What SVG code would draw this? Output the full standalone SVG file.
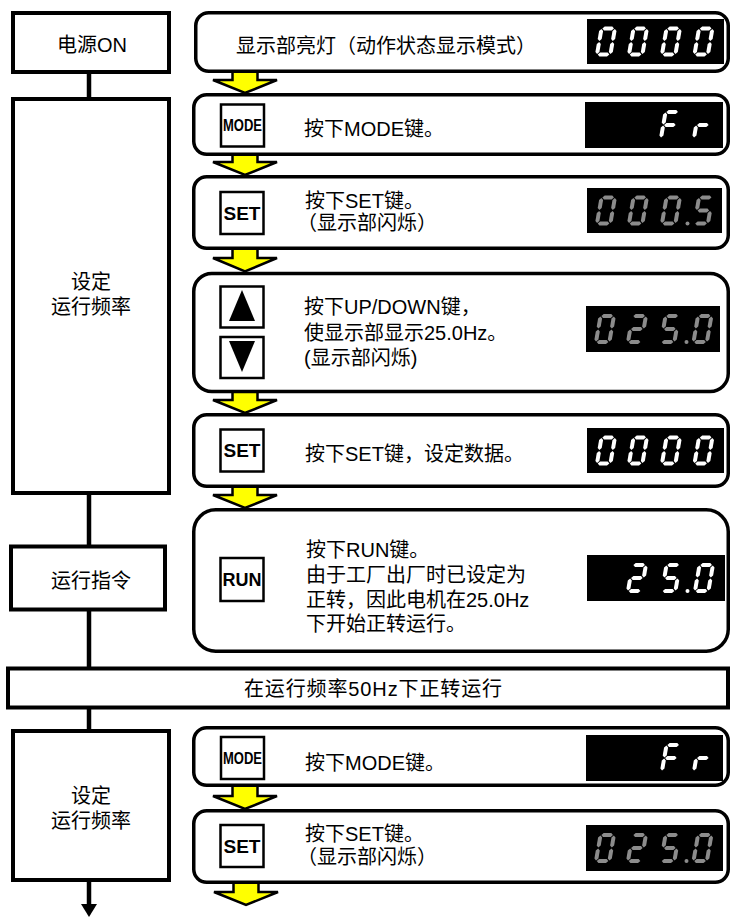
<svg xmlns="http://www.w3.org/2000/svg" width="732" height="917" viewBox="0 0 732 917">
<style>
.box{fill:#fff;stroke:#000;stroke-width:4}
.card{fill:#fff;stroke:#000;stroke-width:3.5}
.btn{fill:#fff;stroke:#000;stroke-width:2.5}
.disp{fill:#000}
.t{font-family:"Liberation Sans","Noto Sans CJK SC",sans-serif;font-size:20px;fill:#000}
.c{text-anchor:middle}
.bt{font-family:"Liberation Sans",Arial,sans-serif;font-weight:bold;fill:#000;text-anchor:middle}
.line{stroke:#000;stroke-width:4.5;fill:none}
.ya{fill:#ffff00;stroke:#000;stroke-width:2.5;stroke-linejoin:miter}
.on{fill:#fff}
.bl{fill:#8c8c8c}
</style>
<defs>
<polygon id="sh" points="0,0 2,-2 9.6,-2 11.6,0 9.6,2 2,2"/>
<polygon id="sv" points="0,0 2,2 2,9.8 0,11.8 -2,9.8 -2,2"/>
<g id="g0"><use href="#sh" x="2.7" y="1.9"/><use href="#sv" x="15.3" y="2.6"/><use href="#sv" x="15.3" y="15.6"/><use href="#sh" x="2.7" y="28.1"/><use href="#sv" x="1.9" y="15.6"/><use href="#sv" x="1.9" y="2.6"/></g>
<g id="g2"><use href="#sh" x="2.7" y="1.9"/><use href="#sv" x="15.3" y="2.6"/><use href="#sh" x="2.7" y="15"/><use href="#sv" x="1.9" y="15.6"/><use href="#sh" x="2.7" y="28.1"/></g>
<g id="g5"><use href="#sh" x="2.7" y="1.9"/><use href="#sv" x="1.9" y="2.6"/><use href="#sh" x="2.7" y="15"/><use href="#sv" x="15.3" y="15.6"/><use href="#sh" x="2.7" y="28.1"/></g>
<g id="gF"><use href="#sh" x="2.7" y="1.9"/><use href="#sv" x="1.9" y="2.6"/><use href="#sh" x="2.7" y="15"/><use href="#sv" x="1.9" y="15.6"/></g>
<g id="gr"><use href="#sh" x="2.7" y="15"/><use href="#sv" x="1.9" y="15.6"/></g>
</defs>

<g id="connectors">
<line class="line" x1="89" y1="74" x2="89" y2="97"/>
<line class="line" x1="89" y1="495" x2="89" y2="545"/>
<line class="line" x1="89" y1="611" x2="89" y2="667"/>
<line class="line" x1="89" y1="709" x2="89" y2="729"/>
<line class="line" x1="89" y1="882" x2="89" y2="906"/>
<polygon points="81,904 97,904 89,917" fill="#000"/>
<path class="ya" d="M232.5,68 H257.5 V80 H277 L245,93 L213,80 H232.5 Z"/>
<path class="ya" d="M232.5,151 H257.5 V162 H277 L245,175 L213,162 H232.5 Z"/>
<path class="ya" d="M232.5,245 H257.5 V258 H277 L245,271.5 L213,258 H232.5 Z"/>
<path class="ya" d="M232.5,388 H257.5 V400 H277 L245,413 L213,400 H232.5 Z"/>
<path class="ya" d="M232.5,483 H257.5 V495 H277 L245,508 L213,495 H232.5 Z"/>
<path class="ya" d="M232.5,782 H257.5 V796 H277 L245,809 L213,796 H232.5 Z"/>
<path class="ya" d="M233.5,879 H258.5 V892 H278 L246,905 L214,892 H233.5 Z"/>
</g>

<g id="power-on">
<rect class="box" x="13" y="13" width="156" height="59"/>
<text class="t c" x="92" y="52">电源ON</text>
</g>
<g id="set-freq-1">
<rect class="box" x="13" y="99" width="156" height="394"/>
<text class="t c" x="91" y="288.5">设定</text>
<text class="t c" x="91" y="313.5">运行频率</text>
</g>
<g id="run-cmd">
<rect class="box" x="11" y="546.5" width="154" height="63"/>
<text class="t c" x="91" y="587.5">运行指令</text>
</g>
<g id="run-50hz">
<rect class="box" x="8" y="668.5" width="720" height="39"/>
<text class="t c" x="373" y="696" textLength="258">在运行频率50Hz下正转运行</text>
</g>
<g id="set-freq-2">
<rect class="box" x="13" y="731" width="156" height="149"/>
<text class="t c" x="91" y="802.5">设定</text>
<text class="t c" x="91" y="827.5">运行频率</text>
</g>

<g id="step-display-on">
<rect class="card" x="195.75" y="12.75" width="532.5" height="58.5" rx="13"/>
<text class="t" x="236" y="52.5">显示部亮灯（动作状态显示模式）</text>
<rect class="disp" x="587" y="19" width="137" height="45"/>
<g class="on">
<use href="#g0" transform="translate(600,26.5) skewX(-10)"/>
<use href="#g0" transform="translate(632,26.5) skewX(-10)"/>
<use href="#g0" transform="translate(665,26.5) skewX(-10)"/>
<use href="#g0" transform="translate(697.5,26.5) skewX(-10)"/>
</g>
</g>

<g id="step-mode">
<rect class="card" x="193.75" y="94.75" width="534.5" height="59.5" rx="13"/>
<rect class="btn" x="221" y="104.5" width="43" height="42"/>
<text class="bt" x="242.5" y="131" font-size="16" textLength="39" lengthAdjust="spacingAndGlyphs">MODE</text>
<text class="t" x="304" y="135.5">按下MODE键。</text>
<rect class="disp" x="585" y="102" width="138" height="46"/>
<g class="on">
<use href="#gF" transform="translate(664,110) skewX(-10)"/>
<use href="#gr" transform="translate(697,110) skewX(-10)"/>
</g>
</g>

<g id="step-set-1">
<rect class="card" x="193.75" y="176.75" width="534.5" height="71.5" rx="13"/>
<rect class="btn" x="220.5" y="192" width="43" height="42"/>
<text class="bt" x="242" y="219.5" font-size="18" textLength="37" lengthAdjust="spacingAndGlyphs">SET</text>
<text class="t" x="305" y="207.5">按下SET键。</text>
<text class="t" x="297" y="229.5">（显示部闪烁）</text>
<rect class="disp" x="587" y="188" width="135" height="45"/>
<g class="bl">
<use href="#g0" transform="translate(600,195.5) skewX(-10)"/>
<use href="#g0" transform="translate(632,195.5) skewX(-10)"/>
<use href="#g0" transform="translate(665,195.5) skewX(-10)"/>
<circle cx="687.5" cy="223.6" r="2"/>
<use href="#g5" transform="translate(697.5,195.5) skewX(-10)"/>
</g>
</g>

<g id="step-updown">
<rect class="card" x="193.75" y="273.5" width="534.5" height="118" rx="18"/>
<rect class="btn" x="220.5" y="286.5" width="43" height="41"/>
<polygon points="242,290 229,321 255,321" fill="#000"/>
<rect class="btn" x="220.5" y="337" width="43" height="41"/>
<polygon points="229,341 255,341 242,372" fill="#000"/>
<text class="t" x="304" y="314">按下UP/DOWN键，</text>
<text class="t" x="304" y="340">使显示部显示25.0Hz。</text>
<text class="t" x="304" y="365">(显示部闪烁)</text>
<rect class="disp" x="586" y="306" width="134" height="46"/>
<g class="bl">
<use href="#g0" transform="translate(599,314) skewX(-10)"/>
<use href="#g2" transform="translate(631,314) skewX(-10)"/>
<use href="#g5" transform="translate(664,314) skewX(-10)"/>
<circle cx="686.5" cy="342.1" r="2"/>
<use href="#g0" transform="translate(696.5,314) skewX(-10)"/>
</g>
</g>

<g id="step-set-2">
<rect class="card" x="193.75" y="414.75" width="534.5" height="71.5" rx="13"/>
<rect class="btn" x="220.5" y="429.5" width="43" height="42"/>
<text class="bt" x="242" y="457" font-size="18" textLength="37" lengthAdjust="spacingAndGlyphs">SET</text>
<text class="t" x="305" y="460.5">按下SET键，设定数据。</text>
<rect class="disp" x="587" y="428" width="137" height="45"/>
<g class="on">
<use href="#g0" transform="translate(600,435.5) skewX(-10)"/>
<use href="#g0" transform="translate(632,435.5) skewX(-10)"/>
<use href="#g0" transform="translate(665,435.5) skewX(-10)"/>
<use href="#g0" transform="translate(697.5,435.5) skewX(-10)"/>
</g>
</g>

<g id="step-run">
<rect class="card" x="193.75" y="509.75" width="534.5" height="141.5" rx="22"/>
<rect class="btn" x="220.5" y="558" width="43" height="43"/>
<text class="bt" x="242" y="586" font-size="18" textLength="39" lengthAdjust="spacingAndGlyphs">RUN</text>
<text class="t" x="306" y="557">按下RUN键。</text>
<text class="t" x="306" y="582">由于工厂出厂时已设定为</text>
<text class="t" x="306" y="606.5">正转，因此电机在25.0Hz</text>
<text class="t" x="306" y="631">下开始正转运行。</text>
<rect class="disp" x="587" y="555" width="138" height="46"/>
<g class="on">
<use href="#g2" transform="translate(631,563) skewX(-10)"/>
<use href="#g5" transform="translate(665,563) skewX(-10)"/>
<circle cx="687.5" cy="591.1" r="2"/>
<use href="#g0" transform="translate(698,563) skewX(-10)"/>
</g>
</g>

<g id="step-mode-2">
<rect class="card" x="193.75" y="727.75" width="534.5" height="57.5" rx="13"/>
<rect class="btn" x="221" y="737" width="43" height="42"/>
<text class="bt" x="242.5" y="763.5" font-size="16" textLength="39" lengthAdjust="spacingAndGlyphs">MODE</text>
<text class="t" x="305" y="770">按下MODE键。</text>
<rect class="disp" x="586" y="735" width="137" height="46"/>
<g class="on">
<use href="#gF" transform="translate(665,743) skewX(-10)"/>
<use href="#gr" transform="translate(697,743) skewX(-10)"/>
</g>
</g>

<g id="step-set-3">
<rect class="card" x="193.75" y="810.75" width="534.5" height="71.5" rx="13"/>
<rect class="btn" x="220.5" y="825" width="43" height="42"/>
<text class="bt" x="242" y="852.5" font-size="18" textLength="37" lengthAdjust="spacingAndGlyphs">SET</text>
<text class="t" x="305" y="841">按下SET键。</text>
<text class="t" x="297" y="864">（显示部闪烁）</text>
<rect class="disp" x="586" y="825" width="137" height="46"/>
<g class="bl">
<use href="#g0" transform="translate(599,833) skewX(-10)"/>
<use href="#g2" transform="translate(631,833) skewX(-10)"/>
<use href="#g5" transform="translate(664,833) skewX(-10)"/>
<circle cx="686.5" cy="861.1" r="2"/>
<use href="#g0" transform="translate(696.5,833) skewX(-10)"/>
</g>
</g>
</svg>
